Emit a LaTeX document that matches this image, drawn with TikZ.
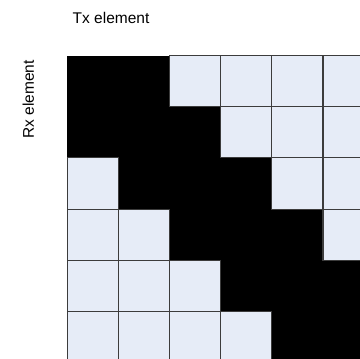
\documentclass[tikz,border=0pt]{standalone}
\usepackage{fontspec}
\setmainfont{Liberation Sans}
\definecolor{cellfill}{HTML}{E6ECF7}
\definecolor{gridline}{HTML}{3C3C3C}
\begin{document}
\begin{tikzpicture}[x=1pt,y=-1pt,
  lightcell/.style={fill=cellfill,draw=gridline,line width=1.1pt},
  darkcell/.style={fill=black},
  labeltext/.style={inner sep=0pt,font=\fontsize{15.5}{18}\selectfont}]
\useasboundingbox (0,0) rectangle (360,359);
\clip (0,0) rectangle (360,359);
\def\xo{67.3}\def\yo{55.6}\def\cs{51.15}
% dark cells first
\foreach \r in {0,...,5}{
  \foreach \c in {0,...,5}{
    \pgfmathtruncatemacro{\d}{\c-\r}
    \ifnum\d<-1\relax\else\ifnum\d>1\relax\else
      \fill[darkcell] (\xo+\c*\cs,\yo+\r*\cs) rectangle ++(\cs,\cs);
    \fi\fi
  }
}
% light cells
\foreach \r in {0,...,5}{
  \foreach \c in {0,...,5}{
    \pgfmathtruncatemacro{\d}{\c-\r}
    \ifnum\d<-1\relax
      \draw[lightcell] (\xo+\c*\cs,\yo+\r*\cs) rectangle ++(\cs,\cs);
    \else\ifnum\d>1\relax
      \draw[lightcell] (\xo+\c*\cs,\yo+\r*\cs) rectangle ++(\cs,\cs);
    \fi\fi
  }
}
\node[labeltext,anchor=base west] (tx) at (72.5,23.3) {Tx element};
\node[labeltext,anchor=base west,rotate=90] (rx) at (33.8,139) {Rx element};
\end{tikzpicture}
\end{document}
